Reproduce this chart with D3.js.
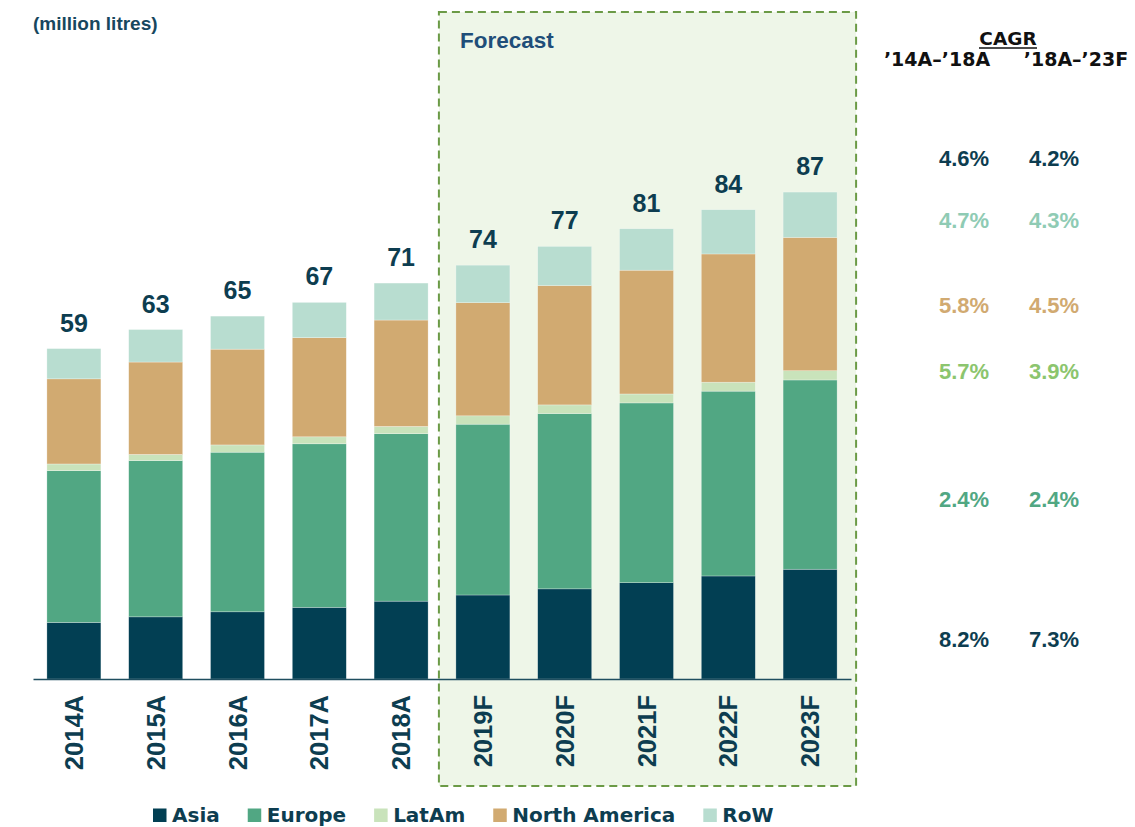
<!DOCTYPE html>
<html>
<head>
<meta charset="utf-8">
<script src="https://cdn.jsdelivr.net/npm/d3@7"></script>
<style>
  html, body { margin: 0; padding: 0; background: #fff; }
  svg { display: block; }
</style>
</head>
<body>
<svg id="chart" width="1135" height="827"></svg>
<script>
// ---- data ----
const categories = ["2014A","2015A","2016A","2017A","2018A","2019F","2020F","2021F","2022F","2023F"];
const forecastCats = ["2019F","2020F","2021F","2022F","2023F"];
const seriesNames = ["Asia","Europe","LatAm","North America","RoW"];
const asia   = [10.1, 11.1, 12.0, 12.8, 13.9, 15.0, 16.1, 17.2, 18.4, 19.6];
const europe = [27.1, 27.9, 28.5, 29.2, 29.9, 30.5, 31.3, 32.1, 33.0, 33.8];
const latam  = [1.2, 1.1, 1.3, 1.25, 1.3, 1.5, 1.55, 1.6, 1.6, 1.65];
const northAmerica = [15.2, 16.5, 17.1, 17.7, 19.0, 20.2, 21.3, 22.1, 22.9, 23.8];
const row    = [5.4, 5.8, 5.9, 6.3, 6.6, 6.7, 7.0, 7.4, 7.9, 8.1];
const totalLabels = [59, 63, 65, 67, 71, 74, 77, 81, 84, 87];
// CAGR table (rows top to bottom: Total, RoW, North America, LatAm, Europe, Asia)
const cagrRows = ["Total","RoW","North America","LatAm","Europe","Asia"];
const cagr1418 = ["4.6%","4.7%","5.8%","5.7%","2.4%","8.2%"];
const cagr1823 = ["4.2%","4.3%","4.5%","3.9%","2.4%","7.3%"];
const cagrHeaders = ["\u201914A\u2013\u201918A", "\u201918A\u2013\u201923F"];

// ---- styles ----
const colors = {
  "Asia": "#023f53",
  "Europe": "#51a783",
  "LatAm": "#c9e3bb",
  "North America": "#d1aa71",
  "RoW": "#b8ddd0"
};
const cagrColors = {
  "Total": "#0d3d50",
  "RoW": "#8fcbb4",
  "North America": "#d1aa71",
  "LatAm": "#8cc56e",
  "Europe": "#51a783",
  "Asia": "#0d3d50"
};
const textDark = "#0d3d50";

const svg = d3.select("#chart");

const table = categories.map((c, i) => ({
  cat: c,
  "Asia": asia[i],
  "Europe": europe[i],
  "LatAm": latam[i],
  "North America": northAmerica[i],
  "RoW": row[i],
  total: totalLabels[i]
}));

const x = d3.scaleBand().domain(categories).range([33, 851]).paddingInner(0.34).paddingOuter(0.17);
const y = d3.scaleLinear().domain([0, 100]).range([679, 119]);

// Forecast box (behind bars)
const fx0 = x(forecastCats[0]) - 17;
const fx1 = x(forecastCats[forecastCats.length - 1]) + x.bandwidth() + 19;
svg.append("rect")
  .attr("x", fx0).attr("y", 12)
  .attr("width", fx1 - fx0).attr("height", 774)
  .attr("fill", "#eef6e8")
  .attr("stroke", "#6b9a46")
  .attr("stroke-width", 2)
  .attr("stroke-dasharray", "8,5");

svg.append("text")
  .attr("x", fx0 + 21).attr("y", 48)
  .attr("font-family", "'Liberation Sans', Arial, sans-serif")
  .attr("font-weight", "bold")
  .attr("font-size", 22.5)
  .attr("fill", "#1f4e79")
  .text("Forecast");

// unit label
svg.append("text")
  .attr("x", 33).attr("y", 30)
  .attr("font-family", "'Liberation Sans', Arial, sans-serif")
  .attr("font-weight", "bold")
  .attr("font-size", 19)
  .attr("fill", "#17475e")
  .text("(million litres)");

// stacked bars
const stack = d3.stack().keys(seriesNames);
const stacked = stack(table);

svg.append("g").selectAll("g")
  .data(stacked)
  .join("g")
  .attr("fill", d => colors[d.key])
  .selectAll("rect")
  .data(d => d)
  .join("rect")
  .attr("x", d => x(d.data.cat))
  .attr("width", x.bandwidth())
  .attr("y", d => y(d[1]))
  .attr("height", d => y(d[0]) - y(d[1]))
  .attr("stroke", "rgba(255,255,255,0.45)")
  .attr("stroke-width", 0.6);

// total labels
const topOf = d => y(d3.sum(seriesNames, k => d[k]));
svg.append("g").selectAll("text")
  .data(table)
  .join("text")
  .attr("x", d => x(d.cat) + x.bandwidth() / 2)
  .attr("y", d => topOf(d) - 17)
  .attr("text-anchor", "middle")
  .attr("font-family", "'Liberation Sans', Arial, sans-serif")
  .attr("font-weight", "bold")
  .attr("font-size", 25)
  .attr("fill", textDark)
  .text(d => d.total);

// x axis
const xAxis = svg.append("g")
  .attr("transform", `translate(0,${y(0)})`)
  .call(d3.axisBottom(x).tickSize(0).tickSizeOuter(0).tickPadding(0));
xAxis.select(".domain").attr("stroke", "#1f4e5f").attr("stroke-width", 1.5);
xAxis.selectAll(".tick text")
  .attr("transform", "translate(0,16) rotate(-90)")
  .attr("text-anchor", "end")
  .attr("x", 0).attr("y", 0)
  .attr("dy", "0.36em")
  .attr("font-family", "'Liberation Sans', Arial, sans-serif")
  .attr("font-weight", "bold")
  .attr("font-size", 25.5)
  .attr("fill", textDark);

// legend
const legend = svg.append("g").attr("transform", "translate(153,0)");
let lx = 0;
seriesNames.forEach(name => {
  const g = legend.append("g").attr("transform", `translate(${lx},0)`);
  g.append("rect").attr("x", 0).attr("y", 808.5).attr("width", 13.5).attr("height", 13.5).attr("fill", colors[name]);
  const t = g.append("text")
    .attr("x", 19).attr("y", 821.5)
    .attr("font-family", "'DejaVu Sans', sans-serif")
    .attr("font-weight", "bold")
    .attr("font-size", 20)
    .attr("fill", textDark)
    .text(name);
  const w = t.node().getComputedTextLength();
  lx += 19 + w + 28;
});

// CAGR table
svg.append("text")
  .attr("x", 1008).attr("y", 45)
  .attr("text-anchor", "middle")
  .attr("font-family", "'DejaVu Sans', sans-serif")
  .attr("font-weight", "bold")
  .attr("font-size", 18.5)
  .attr("fill", "#111")
  .text("CAGR");
svg.append("line")
  .attr("x1", 979).attr("x2", 1037)
  .attr("y1", 48).attr("y2", 48)
  .attr("stroke", "#111").attr("stroke-width", 1.6);

const headerX = [937, 1076];
cagrHeaders.forEach((h, i) => {
  svg.append("text")
    .attr("x", headerX[i]).attr("y", 66)
    .attr("text-anchor", "middle")
    .attr("font-family", "'DejaVu Sans', sans-serif")
    .attr("font-weight", "bold")
    .attr("font-size", 19)
    .attr("fill", "#111")
    .text(h);
});

const rowY = [166, 228, 313, 379, 507, 647];
const colX = [964, 1054];
const cagrG = svg.append("g")
  .attr("font-family", "'Liberation Sans', Arial, sans-serif")
  .attr("font-weight", "bold")
  .attr("font-size", 22)
  .attr("text-anchor", "middle");
cagrRows.forEach((r, i) => {
  cagrG.append("text").attr("x", colX[0]).attr("y", rowY[i]).attr("fill", cagrColors[r]).text(cagr1418[i]);
  cagrG.append("text").attr("x", colX[1]).attr("y", rowY[i]).attr("fill", cagrColors[r]).text(cagr1823[i]);
});
</script>
</body>
</html>
